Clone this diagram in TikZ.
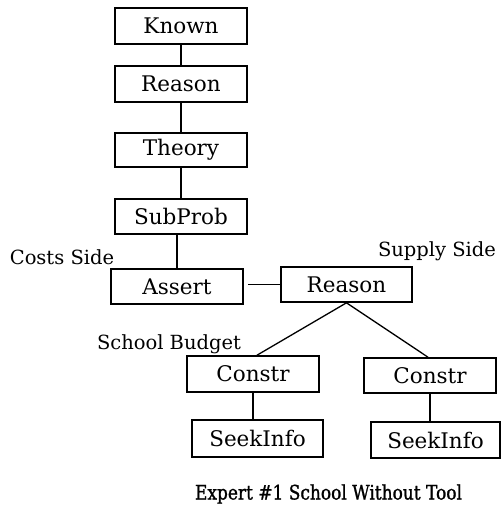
\documentclass[tikz,border=0pt]{standalone}
\usepackage{fontspec}
\setmainfont{DejaVu Serif}
\newfontfamily\captionfont[FakeStretch=0.85,FakeBold=1.2]{DejaVu Serif}
\usepackage{tikz}

\begin{document}
\begin{tikzpicture}[x=1pt,y=-1pt,
  stepbox/.style={draw, line width=1.6pt, minimum width=132pt, minimum height=36pt,
                  inner sep=0pt, font=\fontsize{21.5}{24}\selectfont},
  sidetext/.style={font=\fontsize{19.5}{22}\selectfont, inner sep=0pt}]

\useasboundingbox (0,0) rectangle (501,509);

\node[stepbox] (Known) at (181,26) {Known};
\node[stepbox] (ReasonA) at (181,84) {Reason};
\node[stepbox, minimum height=34pt] (Theory) at (181,150) {Theory};
\node[stepbox, minimum height=35pt] (SubProb) at (181,216.5) {SubProb};
\node[stepbox, minimum height=35pt] (Assert) at (177,286.5) {Assert};
\node[stepbox, minimum width=131pt, minimum height=35pt] (ReasonB) at (346.5,284.5) {Reason};
\node[stepbox] (ConstrA) at (253,374) {Constr};
\node[stepbox, minimum height=35pt] (ConstrB) at (430,375.5) {Constr};
\node[stepbox, minimum width=131pt, minimum height=37pt] (SeekA) at (257.5,438.5) {SeekInfo};
\node[stepbox, minimum width=129pt] (SeekB) at (435.5,440) {SeekInfo};

\node[sidetext] (costs) at (62,257) {Costs Side};
\node[sidetext] (supply) at (437,251) {Supply Side};
\node[sidetext] (budget) at (169,344) {School Budget};
\node[sidetext, font=\captionfont\fontsize{20}{22}\selectfont] (caption) at (328.5,494) {Expert \#1 School Without Tool};

\draw[line width=1.6pt] (Known) -- (ReasonA);
\draw[line width=1.6pt] (ReasonA) -- (Theory);
\draw[line width=1.6pt] (Theory) -- (SubProb);
\draw[line width=1.6pt] (Assert.north) -- (Assert.north |- SubProb.south);
\draw[line width=1.6pt, shorten >=4pt] (ReasonB.west) -- (ReasonB.west -| Assert.east);
\draw[line width=1.3pt] (ReasonB.south) -- ([xshift=4pt]ConstrA.north);
\draw[line width=1.3pt] (ReasonB.south) -- ([xshift=-2pt]ConstrB.north);
\draw[line width=1.6pt] (ConstrA.south) -- (ConstrA.south |- SeekA.north);
\draw[line width=1.6pt] (ConstrB.south) -- (ConstrB.south |- SeekB.north);
\end{tikzpicture}
\end{document}
